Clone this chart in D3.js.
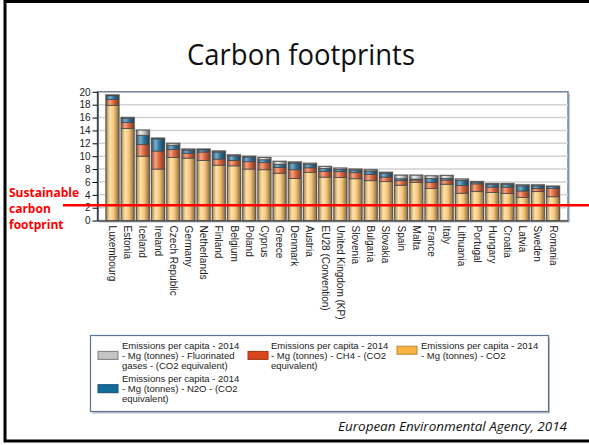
<!DOCTYPE html>
<html>
<head>
<meta charset="utf-8">
<script src="https://cdn.jsdelivr.net/npm/d3@7"></script>
<style>
  body { margin: 0; background: #fff; }
  svg { display: block; }
</style>
</head>
<body>
<div id="chart"></div>
<script>
// data (tonnes per capita, 2014)
const countries = ['Luxembourg', 'Estonia', 'Iceland', 'Ireland', 'Czech Republic', 'Germany',
    'Netherlands', 'Finland', 'Belgium', 'Poland', 'Cyprus', 'Greece', 'Denmark', 'Austria',
    'EU28 (Convention)', 'United Kingdom (KP)', 'Slovenia', 'Bulgaria', 'Slovakia', 'Spain',
    'Malta', 'France', 'Italy', 'Lithuania', 'Portugal', 'Hungary', 'Croatia', 'Latvia',
    'Sweden', 'Romania'];
const co2 = [17.9, 14.3, 10.0, 8.0, 9.8, 9.7, 9.35, 8.6, 8.5, 8.0, 7.9, 7.35, 6.55, 7.5,
    6.75, 6.7, 6.5, 6.2, 6.05, 5.5, 5.95, 5.0, 5.65, 4.25, 4.5, 4.35, 4.2, 3.6, 4.5, 3.7];
const ch4 = [0.9, 0.95, 1.8, 2.8, 1.25, 0.75, 1.3, 0.95, 0.85, 1.15, 1.1, 0.9, 1.35, 0.7,
    0.9, 0.9, 0.95, 1.0, 0.7, 0.7, 0.35, 0.95, 0.65, 1.2, 1.2, 0.85, 1.0, 1.0, 0.5, 1.3];
const n2o = [0.6, 0.6, 1.45, 1.9, 0.65, 0.5, 0.35, 1.1, 0.7, 0.7, 0.45, 0.5, 1.05, 0.5,
    0.45, 0.35, 0.4, 0.5, 0.6, 0.3, 0.15, 0.6, 0.25, 0.8, 0.25, 0.4, 0.4, 0.8, 0.4, 0.3];
const fgas = [0.1, 0.15, 0.8, 0.1, 0.3, 0.15, 0.1, 0.15, 0.15, 0.15, 0.35, 0.45, 0.15, 0.2,
    0.3, 0.2, 0.15, 0.2, 0.15, 0.55, 0.6, 0.4, 0.45, 0.2, 0.1, 0.15, 0.15, 0.15, 0.15, 0.05];
const yTickValues = [0, 2, 4, 6, 8, 10, 12, 14, 16, 18, 20];
const sustainableLevel = 2.4;

const seriesKeys = ['co2', 'ch4', 'n2o', 'fgas'];
const legendLines = {
    fgas: ['Emissions per capita - 2014', '- Mg (tonnes) - Fluorinated', 'gases - (CO2 equivalent)'],
    ch4: ['Emissions per capita - 2014', '- Mg (tonnes) - CH4 - (CO2', 'equivalent)'],
    co2: ['Emissions per capita - 2014', '- Mg (tonnes) - CO2'],
    n2o: ['Emissions per capita - 2014', '- Mg (tonnes) - N2O - (CO2', 'equivalent)']
};

// bar shading: dark edge, highlight, mid, dark edge
const shades = {
    co2: ['#a9834b', '#ffe3aa', '#f4c57c', '#8c6b3c'],
    ch4: ['#9a4a2c', '#f4a384', '#d8643c', '#7d3a22'],
    n2o: ['#2c5068', '#78aecb', '#31739a', '#213f54'],
    fgas: ['#7a7a7a', '#f0f0f0', '#c4c4c4', '#666666']
};
const swatch = { co2: '#f7b443', ch4: '#d9461b', n2o: '#136b9a', fgas: '#c4c4c4' };

const table = countries.map((c, i) => ({ country: c, co2: co2[i], ch4: ch4[i], n2o: n2o[i], fgas: fgas[i] }));

const width = 589, height = 445;
const plot = { left: 97.5, right: 568, top: 91.8, bottom: 220.6 };

const svg = d3.select('#chart').append('svg')
    .attr('width', width)
    .attr('height', height)
    .style('font-family', '"Liberation Sans", Arial, sans-serif');

const defs = svg.append('defs');
seriesKeys.forEach(k => {
    const g = defs.append('linearGradient').attr('id', 'grad-' + k)
        .attr('x1', 0).attr('x2', 1).attr('y1', 0).attr('y2', 0);
    [0, 0.3, 0.6, 1].forEach((o, j) => g.append('stop').attr('offset', o).attr('stop-color', shades[k][j]));
});

// slide frame
svg.append('path')
    .attr('d', `M${width + 5},1.5 H5 V441 H${width + 5}`)
    .attr('fill', 'none')
    .attr('stroke', '#000')
    .attr('stroke-width', 3);

svg.append('text')
    .attr('x', 301).attr('y', 65)
    .attr('text-anchor', 'middle')
    .attr('textLength', 228).attr('lengthAdjust', 'spacingAndGlyphs')
    .style('font-family', '"Open Sans", sans-serif')
    .style('font-size', '29px')
    .attr('fill', '#111')
    .text('Carbon footprints');

const x = d3.scaleBand()
    .domain(countries)
    .range([plot.left, plot.right])
    .paddingInner(0.15)
    .paddingOuter(0.56);

const y = d3.scaleLinear()
    .domain([0, 20])
    .range([plot.bottom, plot.top]);

// plot frame + shadow
svg.append('rect')
    .attr('x', plot.left + 2).attr('y', plot.top + 2)
    .attr('width', plot.right - plot.left).attr('height', plot.bottom - plot.top)
    .attr('fill', '#c8c8c8');
svg.append('rect')
    .attr('x', plot.left).attr('y', plot.top)
    .attr('width', plot.right - plot.left).attr('height', plot.bottom - plot.top)
    .attr('fill', '#fff')
    .attr('stroke', '#71849c')
    .attr('stroke-width', 1.5);

// gridlines
svg.append('g').selectAll('line')
    .data(yTickValues.filter(v => v > 0 && v < 20))
    .join('line')
    .attr('x1', plot.left).attr('x2', plot.right)
    .attr('y1', d => y(d)).attr('y2', d => y(d))
    .attr('stroke', '#d2d2d2')
    .attr('stroke-width', 1.5);

// stacked bars
const stacked = d3.stack().keys(seriesKeys)(table);

const barShadow = svg.append('g');
barShadow.selectAll('rect')
    .data(table)
    .join('rect')
    .attr('x', d => x(d.country) - 1)
    .attr('y', d => y(d.co2 + d.ch4 + d.n2o + d.fgas) - 1)
    .attr('width', x.bandwidth() + 2)
    .attr('height', d => y(0) - y(d.co2 + d.ch4 + d.n2o + d.fgas) + 1)
    .attr('fill', '#b5b5b5');

svg.append('g').selectAll('g')
    .data(stacked)
    .join('g')
    .attr('fill', s => `url(#grad-${s.key})`)
    .selectAll('rect')
    .data(s => s)
    .join('rect')
    .attr('x', d => x(d.data.country))
    .attr('y', d => y(d[1]))
    .attr('width', x.bandwidth())
    .attr('height', d => y(d[0]) - y(d[1]))
    .attr('stroke', '#4a4a4a')
    .attr('stroke-width', 0.8);

// axes
const yAxis = svg.append('g')
    .attr('transform', `translate(${plot.left},0)`)
    .call(d3.axisLeft(y).tickValues(yTickValues).tickSize(5).tickSizeOuter(0).tickPadding(2));
yAxis.select('.domain').attr('stroke', '#000');
yAxis.selectAll('text').style('font-size', '10px').attr('fill', '#222');

const xAxis = svg.append('g')
    .attr('transform', `translate(0,${plot.bottom})`)
    .call(d3.axisBottom(x).tickSize(0).tickSizeOuter(0));
xAxis.select('.domain').attr('stroke', '#444');
xAxis.selectAll('text')
    .style('font-size', '10px')
    .attr('fill', '#222')
    .attr('transform', 'rotate(90)')
    .attr('x', 5)
    .attr('y', 0)
    .attr('dy', '0.35em')
    .style('text-anchor', 'start');

// sustainable footprint line
svg.append('line')
    .attr('x1', 63).attr('x2', width)
    .attr('y1', y(sustainableLevel)).attr('y2', y(sustainableLevel))
    .attr('stroke', '#ff0000')
    .attr('stroke-width', 2.5);

svg.append('g')
    .selectAll('text')
    .data(['Sustainable', 'carbon', 'footprint'])
    .join('text')
    .attr('x', 9)
    .attr('y', (d, i) => 196.5 + i * 16)
    .style('font-family', '"Open Sans", sans-serif')
    .style('font-size', '12px')
    .style('font-weight', 'bold')
    .attr('fill', '#ff0000')
    .text(d => d);

// legend
const legend = svg.append('g');
legend.append('rect')
    .attr('x', 92).attr('y', 337.5).attr('width', 458).attr('height', 76)
    .attr('fill', '#bdbdbd');
legend.append('rect')
    .attr('x', 90.5).attr('y', 335.5).attr('width', 458).attr('height', 76)
    .attr('fill', '#fff')
    .attr('stroke', '#5c7593')
    .attr('stroke-width', 1.2);

const legendItems = [
    { key: 'fgas', tx: 122, sx: 98, top: 348.5 },
    { key: 'ch4', tx: 271, sx: 248, top: 348.5 },
    { key: 'co2', tx: 421, sx: 397, top: 348.5 },
    { key: 'n2o', tx: 122, sx: 98, top: 381.8 }
];
const item = legend.selectAll('g.item')
    .data(legendItems)
    .join('g')
    .attr('class', 'item');
item.append('rect')
    .attr('x', d => d.sx)
    .attr('y', d => d.top - 3.4 + (legendLines[d.key].length - 1) * 10.3 / 2 - 4)
    .attr('width', 20).attr('height', 8)
    .attr('fill', d => swatch[d.key])
    .attr('stroke', d => d.key === 'fgas' ? '#7d7d7d' : d3.color(swatch[d.key]).darker(0.8))
    .attr('stroke-width', 1);
item.selectAll('text')
    .data(d => legendLines[d.key].map((t, j) => ({ t, x: d.tx, y: d.top + j * 10.3 })))
    .join('text')
    .attr('x', d => d.x)
    .attr('y', d => d.y)
    .style('font-size', '9.5px')
    .attr('fill', '#222')
    .text(d => d.t);

// source
svg.append('text')
    .attr('x', 567).attr('y', 431)
    .attr('text-anchor', 'end')
    .attr('textLength', 229).attr('lengthAdjust', 'spacingAndGlyphs')
    .style('font-family', '"Open Sans", sans-serif')
    .style('font-size', '12px')
    .style('font-style', 'italic')
    .attr('fill', '#111')
    .text('European Environmental Agency, 2014');
</script>
</body>
</html>
